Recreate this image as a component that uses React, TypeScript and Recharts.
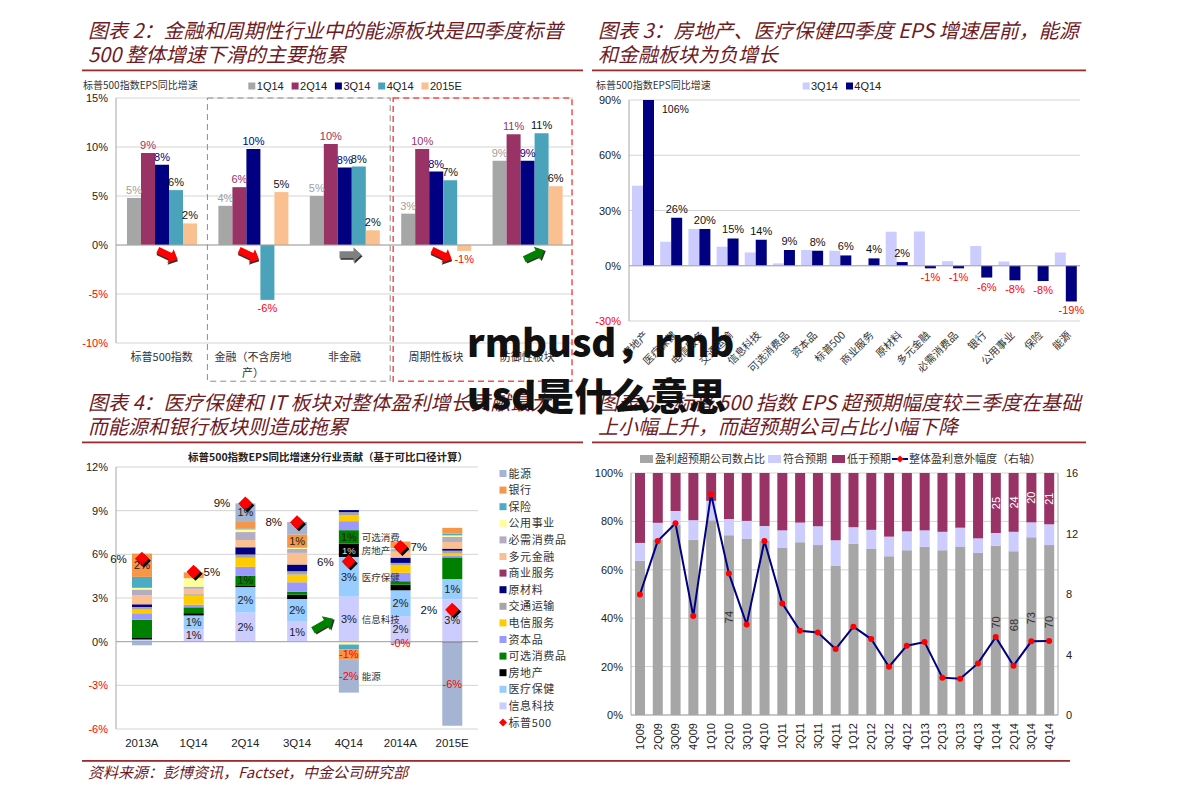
import React from 'react';
import {
  BarChart, Bar, ComposedChart, Line, XAxis, YAxis, CartesianGrid,
  LabelList, ReferenceArea, ReferenceDot, ReferenceLine,
} from 'recharts';

const MAROON = '#6e1b1f';
const RULE = '#9c2b2e';
const SANS = '"Liberation Sans", Arial, sans-serif';
const CJK = '"Noto Sans CJK SC", "Noto Sans", sans-serif';
const GRID = '#d4d4d4';
const AXIS = '#a6a6a6';
const RED = '#ff0000';

// ---------- Chart 1 (图表2) ----------
const c1Categories = ['标普500指数', '金融（不含房地产）', '非金融', '周期性板块', '防御性板块'];
const c1SeriesNames = ['1Q14', '2Q14', '3Q14', '4Q14', '2015E'];
const c1V1Q14 = [4.8, 4.0, 5.0, 3.2, 8.6];
const c1V2Q14 = [9.4, 5.9, 10.3, 9.8, 11.3];
const c1V3Q14 = [8.2, 9.8, 7.9, 7.5, 8.6];
const c1V4Q14 = [5.6, -5.6, 8.0, 6.6, 11.4];
const c1V2015E = [2.2, 5.4, 1.5, -0.6, 6.0];
const c1Ticks = [-10, -5, 0, 5, 10, 15];
const c1Colors = ['#a6a6a6', '#993366', '#000080', '#4aa3bb', '#fac090'];
const c1LabelColors = ['#a0a0a0', '#993366', '#000080', '#111111', '#111111'];
const c1Values = [c1V1Q14, c1V2Q14, c1V3Q14, c1V4Q14, c1V2015E];
const c1Data = c1Categories.map((name, i) => {
  const row: any = { name };
  c1Values.forEach((arr, k) => { row['s' + k] = arr[i]; });
  return row;
});
const c1Arrows = [
  { cat: 0, color: '#ff0000', angle: 25, dx: 6 },
  { cat: 1, color: '#ff0000', angle: 25, dx: -4 },
  { cat: 2, color: '#808080', angle: 0, dx: 6 },
  { cat: 3, color: '#ff0000', angle: 25, dx: 6 },
  { cat: 4, color: '#008000', angle: -25, dx: 7 },
];

// ---------- Chart 2 (图表3) ----------
const c2Categories = ['房地产', '医疗保健', '电信服务', '交通运输', '信息科技', '可选消费品', '资本品', '标普500', '商业服务', '原材料', '多元金融', '必需消费品', '银行', '公用事业', '保险', '能源'];
const c2V3Q14 = [43.4, 13.0, 19.9, 10.3, 7.2, 1.3, 8.5, 8.1, 0.5, 18.4, 18.6, 2.5, 10.7, 2.3, 0.0, 7.2];
const c2V4Q14 = [106, 26.0, 19.9, 14.8, 14.1, 8.5, 8.1, 5.6, 4.0, 2.0, -1.4, -1.4, -6.4, -7.9, -8.3, -19.4];
const c2Ticks = [-30, 0, 30, 60, 90];
const c2Max = 90;
const c2Data = c2Categories.map((name, i) => ({ name, q3: c2V3Q14[i], q4: c2V4Q14[i] }));

// ---------- Chart 3 (图表4) ----------
const c3Periods = ['2013A', '1Q14', '2Q14', '3Q14', '4Q14', '2014A', '2015E'];
const c3IT = [0.10, 0.85, 2.00, 1.38, 3.10, 1.73, 2.92];
const c3Health = [0.05, 0.95, 1.75, 1.55, 2.72, 1.80, 1.38];
const c3RealEstate = [0.15, 0.16, 0.12, 0.30, 0.92, 0.39, -0.06];
const c3Discretionary = [1.20, 0.40, 0.67, 0.20, 0.92, 0.23, 1.49];
const c3Capital = [0.45, 0.18, 0.60, 0.65, 0.62, 0.58, 0.10];
const c3Telecom = [0.25, 0.62, 0.62, 0.53, 0.42, 0.50, 0.16];
const c3Transport = [0.18, 0.10, 0.23, 0.23, 0.20, 0.18, 0.20];
const c3Materials = [0.18, 0.00, 0.48, 0.46, 0.14, 0.35, 0.12];
const c3Business = [0.02, 0.00, 0.05, 0.00, 0.00, 0.02, 0.03];
const c3DivFin = [0.60, 0.37, 0.46, 0.80, -0.05, 0.40, 0.45];
const c3Staples = [0.40, 0.15, 0.55, 0.28, 0.00, 0.18, 0.35];
const c3Utilities = [0.12, 0.58, 0.18, 0.07, -0.15, 0.06, 0.10];
const c3Insurance = [0.75, 0.00, 0.07, 0.00, -0.32, 0.06, 0.12];
const c3Banks = [1.60, 0.40, 0.50, 0.92, -0.68, 0.40, 0.40];
const c3Energy = [-0.25, 0.00, 1.22, 0.85, -2.30, -0.15, -5.72];
const c3SP500 = [5.7, 4.8, 9.5, 8.2, 5.5, 6.5, 2.2];
const c3Ticks = [-6, -3, 0, 3, 6, 9, 12];

const c3LblIT = ['', '1%', '2%', '1%', '3%', '2%', '3%'];
const c3LblHealth = ['', '1%', '2%', '2%', '3%', '2%', '1%'];
const c3LblRealEstate = ['', '', '', '', '1%', '', ''];
const c3LblDiscretionary = ['', '', '1%', '', '1%', '', ''];
const c3LblBanks = ['2%', '', '', '1%', '-1%', '', ''];
const c3LblEnergy = ['', '', '1%', '', '-2%', '-0%', '-6%'];
const c3LblSP500 = ['6%', '5%', '9%', '8%', '6%', '7%', '2%'];
const c3SP500Side = ['left', 'right', 'left', 'left', 'left', 'right', 'left'];
const c3NoteColumn = '4Q14';

// stack order bottom -> top
const c3Sectors = [
  { key: 'it', name: '信息科技', color: '#ccccff', values: c3IT, labels: c3LblIT, note: '信息科技' },
  { key: 'hc', name: '医疗保健', color: '#99ccff', values: c3Health, labels: c3LblHealth, note: '医疗保健' },
  { key: 're', name: '房地产', color: '#000000', values: c3RealEstate, labels: c3LblRealEstate, note: '房地产' },
  { key: 'cd', name: '可选消费品', color: '#008000', values: c3Discretionary, labels: c3LblDiscretionary, note: '可选消费' },
  { key: 'cg', name: '资本品', color: '#9999ff', values: c3Capital, labels: null, note: '' },
  { key: 'tel', name: '电信服务', color: '#ffcc00', values: c3Telecom, labels: null, note: '' },
  { key: 'tr', name: '交通运输', color: '#a6a6a6', values: c3Transport, labels: null, note: '' },
  { key: 'mat', name: '原材料', color: '#000080', values: c3Materials, labels: null, note: '' },
  { key: 'bs', name: '商业服务', color: '#993366', values: c3Business, labels: null, note: '' },
  { key: 'df', name: '多元金融', color: '#fac090', values: c3DivFin, labels: null, note: '' },
  { key: 'cs', name: '必需消费品', color: '#b3acc4', values: c3Staples, labels: null, note: '' },
  { key: 'ut', name: '公用事业', color: '#ffff99', values: c3Utilities, labels: null, note: '' },
  { key: 'ins', name: '保险', color: '#4bacc6', values: c3Insurance, labels: null, note: '' },
  { key: 'bk', name: '银行', color: '#f79646', values: c3Banks, labels: c3LblBanks, note: '' },
  { key: 'en', name: '能源', color: '#a5b4d2', values: c3Energy, labels: c3LblEnergy, note: '能源' },
];
const c3Data = c3Periods.map((name, i) => {
  const row: any = { name, sp: c3SP500[i], spLbl: c3LblSP500[i], spSide: c3SP500Side[i] };
  c3Sectors.forEach((s) => {
    row[s.key] = s.values[i];
    row[s.key + 'Lbl'] = s.labels ? s.labels[i] : '';
    row[s.key + 'Note'] = name === c3NoteColumn ? s.note : '';
  });
  return row;
});

// ---------- Chart 4 (图表5) ----------
const c4Quarters = ['1Q09', '2Q09', '3Q09', '4Q09', '1Q10', '2Q10', '3Q10', '4Q10', '1Q11', '2Q11', '3Q11', '4Q11', '1Q12', '2Q12', '3Q12', '4Q12', '1Q13', '2Q13', '3Q13', '4Q13', '1Q14', '2Q14', '3Q14', '4Q14'];
const c4Beat = [63.7, 72.5, 78.5, 72.4, 80.5, 74.3, 72.8, 72.0, 69.0, 71.4, 70.2, 61.6, 70.7, 68.6, 65.6, 68.1, 69.5, 68.1, 69.6, 67.0, 69.9, 67.7, 73.4, 70.2];
const c4InLine = [7.4, 6.9, 5.8, 8.1, 8.0, 6.7, 7.4, 6.1, 7.3, 8.1, 7.8, 10.6, 6.9, 7.9, 8.1, 7.8, 6.8, 7.6, 7.8, 6.0, 5.3, 8.0, 6.2, 8.6];
const c4Miss = [28.9, 20.6, 15.7, 19.5, 11.5, 19.0, 19.8, 21.9, 23.7, 20.5, 22.0, 27.8, 22.4, 23.5, 26.3, 24.1, 23.7, 24.3, 22.6, 27.0, 24.8, 24.3, 20.4, 21.2];
const c4Surprise = [7.97, 11.5, 12.67, 6.54, 14.6, 9.36, 5.99, 11.5, 7.38, 5.57, 5.46, 4.36, 5.84, 5.02, 3.19, 4.58, 4.82, 2.47, 2.4, 3.41, 5.15, 3.26, 4.87, 4.89];
const c4BeatLbl = ['', '', '', '', '', '74', '', '', '', '', '', '', '', '', '', '', '', '', '', '', '70', '68', '73', '70'];
const c4MissLbl = ['', '', '', '', '', '', '', '', '', '', '', '', '', '', '', '', '', '', '', '', '25', '24', '20', '21'];
const c4LeftTicks = [0, 20, 40, 60, 80, 100];
const c4RightTicks = [0, 4, 8, 12, 16];
const c4Series = ['盈利超预期公司数占比', '符合预期', '低于预期', '整体盈利意外幅度（右轴）'];
const c4Colors = ['#a6a6a6', '#ccccff', '#993366', '#000080'];
const c4Data = c4Quarters.map((name, i) => ({
  name, beat: c4Beat[i], inl: c4InLine[i], miss: c4Miss[i], sur: c4Surprise[i],
  beatLbl: c4BeatLbl[i], missLbl: c4MissLbl[i],
}));

// ---------- helpers ----------
function rectOf(p: any) {
  const v = p.viewBox && typeof p.viewBox.width === 'number' ? p.viewBox : p;
  const x = typeof p.x === 'number' ? p.x : v.x;
  const y = typeof p.y === 'number' ? p.y : v.y;
  const w = typeof p.width === 'number' ? p.width : v.width;
  const h = typeof p.height === 'number' ? p.height : v.height;
  return { x, y, w, h, top: Math.min(y, y + h), bot: Math.max(y, y + h) };
}

const PctTick = (p: any) => {
  const v = p.payload.value;
  return (
    <text x={p.x} y={p.y} dy={4} textAnchor="end" fontSize={11} fontFamily={SANS} fill={v < 0 ? RED : '#222'}>
      {v}%
    </text>
  );
};

const C1XTick = (p: any) => {
  const s = String(p.payload.value);
  const lines = s.length > 7 ? [s.slice(0, 7), s.slice(7)] : [s];
  return (
    <g>
      {lines.map((l, k) => (
        <text key={k} x={p.x} y={p.y + 10 + k * 16} textAnchor="middle" fontSize={11} fontFamily={CJK} fill="#333">{l}</text>
      ))}
    </g>
  );
};

const C2XTick = (p: any) => {
  const x = p.x + 3;
  const y = p.y + 4;
  return (
    <text x={x} y={y} dy={4} transform={`rotate(-45, ${x}, ${y})`} textAnchor="end" fontSize={10.5} fontFamily={CJK} fill="#333">
      {p.payload.value}
    </text>
  );
};

const C3XTick = (p: any) => (
  <text x={p.x} y={p.y} dy={10} textAnchor="middle" fontSize={11.5} fontFamily={SANS} fill="#222">{p.payload.value}</text>
);

const C4XTick = (p: any) => (
  <text x={p.x} y={p.y} dy={4} transform={`rotate(-90, ${p.x}, ${p.y})`} textAnchor="end" fontSize={11} fontFamily={SANS} fill="#222">
    {p.payload.value}
  </text>
);

const C4LeftTick = (p: any) => (
  <text x={p.x} y={p.y} dy={4} textAnchor="end" fontSize={11} fontFamily={SANS} fill="#222">{p.payload.value}%</text>
);
const C4RightTick = (p: any) => (
  <text x={p.x} y={p.y} dy={4} textAnchor="start" fontSize={11} fontFamily={SANS} fill="#222">{p.payload.value}</text>
);

const arrowShape = (color: string, angle: number, dx: number, scale = 1) => (p: any) => {
  const pts = '-11,-3.5 3,-3.5 3,-7.5 11,0 3,7.5 3,3.5 -11,3.5';
  return (
    <g transform={`translate(${p.cx + dx},${p.cy}) rotate(${angle}) scale(${scale})`}>
      <polygon points={pts} fill="#333" transform="translate(1,1.5)" />
      <polygon points={pts} fill={color} />
    </g>
  );
};

const boxShape = (stroke: string, dash: string, sw: number, insetL: number, insetR: number) => (p: any) => (
  <rect x={p.x + insetL} y={p.y} width={p.width - insetL - insetR} height={p.height} fill="none" stroke={stroke} strokeDasharray={dash} strokeWidth={sw} />
);

// ---------- Charts ----------
function Chart1() {
  return (
    <BarChart width={510} height={320} data={c1Data} margin={{ top: 28, right: 17, bottom: 7, left: 6 }} barSize={14} barGap={0}>
      <CartesianGrid vertical={false} stroke={GRID} />
      <XAxis dataKey="name" height={40} axisLine={false} tickLine={false} interval={0} tick={(p: any) => <C1XTick {...p} />} />
      <YAxis width={30} domain={[-10, 15]} ticks={c1Ticks} interval={0} axisLine={{ stroke: AXIS }} tickLine={false} tick={(p: any) => <PctTick {...p} />} />
      <ReferenceLine y={0} stroke={AXIS} />
      {c1Values.map((_, k) => (
        <Bar key={k} dataKey={'s' + k} name={c1SeriesNames[k]} fill={c1Colors[k]} isAnimationActive={false}>
          <LabelList
            dataKey={'s' + k}
            content={(p: any) => {
              const r = rectOf(p);
              const v = Number(p.value);
              const neg = v < 0;
              return (
                <text x={r.x + r.w / 2} y={neg ? r.bot + 12 : r.top - 4} textAnchor="middle" fontSize={11} fontFamily={SANS} fill={neg ? RED : c1LabelColors[k]}>
                  {Math.round(v)}%
                </text>
              );
            }}
          />
        </Bar>
      ))}
      <ReferenceArea x1={c1Categories[1]} x2={c1Categories[2]} y1={-13.9} y2={15} ifOverflow="visible" shape={boxShape('#8c8c8c', '6 4', 1, 0, 0)} />
      <ReferenceArea x1={c1Categories[3]} x2={c1Categories[4]} y1={-13.9} y2={15} ifOverflow="visible" shape={boxShape('#ff4a4a', '6 4', 1.5, 3, 1)} />
      {c1Arrows.map((a) => (
        <ReferenceDot key={a.cat} x={c1Categories[a.cat]} y={-1.0} r={1} ifOverflow="visible" shape={arrowShape(a.color, a.angle, a.dx)} />
      ))}
    </BarChart>
  );
}

function Chart2() {
  return (
    <BarChart width={500} height={320} data={c2Data} margin={{ top: 30, right: 10, bottom: 5, left: 6 }} barSize={11} barGap={0}>
      <CartesianGrid vertical={false} stroke={GRID} />
      <XAxis dataKey="name" height={64} axisLine={false} tickLine={false} interval={0} tick={(p: any) => <C2XTick {...p} />} />
      <YAxis width={33} domain={[-30, c2Max]} ticks={c2Ticks} interval={0} allowDataOverflow axisLine={{ stroke: AXIS }} tickLine={false} tick={(p: any) => <PctTick {...p} />} />
      <ReferenceLine y={0} stroke={AXIS} />
      <Bar dataKey="q3" name="3Q14" fill="#ccccff" isAnimationActive={false} />
      <Bar dataKey="q4" name="4Q14" fill="#000080" isAnimationActive={false}>
        <LabelList
          dataKey="q4"
          content={(p: any) => {
            const r = rectOf(p);
            const v = Number(p.value);
            if (v > c2Max) {
              const perUnit = (r.bot - r.top) / v;
              const plotTop = r.top + (v - c2Max) * perUnit;
              return (
                <text x={r.x + r.w + 8} y={plotTop + 13} textAnchor="start" fontSize={10.5} fontFamily={SANS} fill="#111">{Math.round(v)}%</text>
              );
            }
            const neg = v < 0;
            return (
              <text x={r.x + r.w / 2} y={neg ? r.bot + 13 : r.top - 5} textAnchor="middle" fontSize={11} fontFamily={SANS} fill={neg ? RED : '#111'}>
                {Math.round(v)}%
              </text>
            );
          }}
        />
      </Bar>
    </BarChart>
  );
}

const Diamond = (p: any) => {
  const { cx, cy } = p;
  if (cx == null || cy == null) return <g />;
  const d = 7;
  return (
    <g>
      <polygon points={`${cx + 2},${cy - d + 2} ${cx + d + 2},${cy + 2} ${cx + 2},${cy + d + 2} ${cx - d + 2},${cy + 2}`} fill="#000" />
      <polygon points={`${cx},${cy - d} ${cx + d},${cy} ${cx},${cy + d} ${cx - d},${cy}`} fill="#ff0000" />
    </g>
  );
};

function Chart3() {
  return (
    <ComposedChart width={420} height={315} data={c3Data} margin={{ top: 24, right: 22, bottom: 5, left: 6 }} stackOffset="sign" barSize={20}>
      <CartesianGrid vertical={false} stroke={GRID} />
      <XAxis dataKey="name" height={24} axisLine={false} tickLine={false} interval={0} tick={(p: any) => <C3XTick {...p} />} />
      <YAxis width={30} domain={[-6, 12]} ticks={c3Ticks} interval={0} axisLine={{ stroke: AXIS }} tickLine={false} tick={(p: any) => <PctTick {...p} />} />
      <ReferenceLine y={0} stroke={AXIS} />
      {c3Sectors.map((s) => (
        <Bar key={s.key} dataKey={s.key} name={s.name} stackId="a" fill={s.color} isAnimationActive={false}>
          {s.labels && (
            <LabelList
              dataKey={s.key + 'Lbl'}
              content={(p: any) => {
                const t = p.value;
                if (!t) return null;
                const r = rectOf(p);
                const neg = String(t).startsWith('-');
                const fill = neg ? RED : s.key === 're' ? '#dddddd' : '#222';
                return (
                  <text x={r.x + r.w / 2} y={(r.top + r.bot) / 2 + 4} textAnchor="middle" fontSize={s.key === 're' ? 9.5 : 11} fontFamily={SANS} fill={fill}>{t}</text>
                );
              }}
            />
          )}
          {s.note && (
            <LabelList
              dataKey={s.key + 'Note'}
              content={(p: any) => {
                const t = p.value;
                if (!t) return null;
                const r = rectOf(p);
                return (
                  <text x={r.x + r.w + 3} y={(r.top + r.bot) / 2 + 4} textAnchor="start" fontSize={9.5} fontFamily={CJK} fill="#333">{t}</text>
                );
              }}
            />
          )}
        </Bar>
      ))}
      <ReferenceDot x={c3Periods[3]} y={1.17} r={1} ifOverflow="visible" shape={arrowShape('#008000', -30, 26, 1.05)} />
      <Line
        dataKey="sp"
        name="标普500"
        stroke="none"
        isAnimationActive={false}
        activeDot={false}
        dot={(p: any) => <Diamond key={p.index} {...p} />}
      >
        <LabelList
          dataKey="spLbl"
          content={(p: any) => {
            const side = c3SP500Side[p.index];
            const x = Number(p.x);
            const y = Number(p.y);
            return (
              <text x={side === 'left' ? x - 15 : x + 10} y={y + 4} textAnchor={side === 'left' ? 'end' : 'start'} fontSize={11.5} fontFamily={SANS} fill="#111">
                {p.value}
              </text>
            );
          }}
        />
      </Line>
    </ComposedChart>
  );
}

function Chart4() {
  return (
    <ComposedChart width={500} height={315} data={c4Data} margin={{ top: 30, right: 6, bottom: 5, left: 6 }} barSize={10}>
      <CartesianGrid vertical={false} stroke={GRID} yAxisId="l" />
      <XAxis dataKey="name" height={38} axisLine={{ stroke: AXIS }} tickLine={false} interval={0} tick={(p: any) => <C4XTick {...p} />} />
      <YAxis yAxisId="l" width={35} domain={[0, 100]} ticks={c4LeftTicks} interval={0} axisLine={{ stroke: AXIS }} tickLine={false} tick={(p: any) => <C4LeftTick {...p} />} />
      <YAxis yAxisId="r" orientation="right" width={26} domain={[0, 16]} ticks={c4RightTicks} interval={0} axisLine={{ stroke: AXIS }} tickLine={false} tick={(p: any) => <C4RightTick {...p} />} />
      <Bar yAxisId="l" dataKey="beat" name={c4Series[0]} stackId="b" fill={c4Colors[0]} isAnimationActive={false}>
        <LabelList
          dataKey="beatLbl"
          content={(p: any) => {
            const t = p.value;
            if (!t) return null;
            const r = rectOf(p);
            const cx = r.x + r.w / 2;
            const cy = (r.top + r.bot) / 2 - 8;
            return (
              <text x={cx} y={cy} dy={4} transform={`rotate(-90, ${cx}, ${cy})`} textAnchor="middle" fontSize={11} fontFamily={SANS} fill="#333">{t}</text>
            );
          }}
        />
      </Bar>
      <Bar yAxisId="l" dataKey="inl" name={c4Series[1]} stackId="b" fill={c4Colors[1]} isAnimationActive={false} />
      <Bar yAxisId="l" dataKey="miss" name={c4Series[2]} stackId="b" fill={c4Colors[2]} isAnimationActive={false}>
        <LabelList
          dataKey="missLbl"
          content={(p: any) => {
            const t = p.value;
            if (!t) return null;
            const r = rectOf(p);
            const cx = r.x + r.w / 2;
            const cy = (r.top + r.bot) / 2;
            return (
              <text x={cx} y={cy} dy={4} transform={`rotate(-90, ${cx}, ${cy})`} textAnchor="middle" fontSize={11} fontFamily={SANS} fill="#ffffff">{t}</text>
            );
          }}
        />
      </Bar>
      <Line
        yAxisId="r"
        dataKey="sur"
        name={c4Series[3]}
        stroke={c4Colors[3]}
        strokeWidth={2}
        isAnimationActive={false}
        activeDot={false}
        dot={{ r: 3, fill: '#ff0000', stroke: '#ff0000', strokeWidth: 0 }}
      />
    </ComposedChart>
  );
}

// ---------- Static text ----------
const titleStyle: any = { fontFamily: CJK, fontStyle: 'italic', fontSize: 20, fill: MAROON };

function Background() {
  const legendSq = (x: number, y: number, color: string, w = 7, h = 7) => <rect x={x} y={y - h / 2} width={w} height={h} fill={color} />;
  const c3LegendItems = [...c3Sectors].reverse();
  return (
    <svg style={{ position: 'absolute', left: 0, top: 0 }} width={1191} height={801}>
      {/* titles */}
      <text x={88} y={37.5} {...titleStyle}>图表 2：金融和周期性行业中的能源板块是四季度标普</text>
      <text x={88} y={61.5} {...titleStyle}>500 整体增速下滑的主要拖累</text>
      <text x={598} y={37.5} {...titleStyle}>图表 3：房地产、医疗保健四季度 EPS 增速居前，能源</text>
      <text x={598} y={61.5} {...titleStyle}>和金融板块为负增长</text>
      <text x={88} y={409.5} {...titleStyle}>图表 4：医疗保健和 IT 板块对整体盈利增长贡献最大</text>
      <text x={88} y={433.5} {...titleStyle}>而能源和银行板块则造成拖累</text>
      <text x={598} y={409.5} {...titleStyle}>图表 5：标普 500 指数 EPS 超预期幅度较三季度在基础</text>
      <text x={598} y={433.5} {...titleStyle}>上小幅上升，而超预期公司占比小幅下降</text>
      {/* rules */}
      <rect x={82} y={69.5} width={501} height={1.8} fill={RULE} />
      <rect x={592} y={69.5} width={494} height={1.8} fill={RULE} />
      <rect x={82} y={441.5} width={501} height={1.8} fill={RULE} />
      <rect x={592} y={441.5} width={494} height={1.8} fill={RULE} />
      <rect x={82} y={760} width={988} height={1.8} fill={RULE} />
      {/* footer */}
      <text x={88} y={778} fontFamily={CJK} fontStyle="italic" fontSize={15} fill={MAROON}>资料来源：彭博资讯，Factset，中金公司研究部</text>

      {/* chart 1 legend */}
      <text x={83} y={89} fontFamily={CJK} fontSize={10} fill="#333">标普500指数EPS同比增速</text>
      {c1SeriesNames.map((n, k) => (
        <g key={n}>
          {legendSq(248.3 + k * 43.3, 86, c1Colors[k])}
          <text x={256.8 + k * 43.3} y={90} fontFamily={SANS} fontSize={11} fill="#222">{n}</text>
        </g>
      ))}

      {/* chart 2 legend */}
      <text x={596} y={89} fontFamily={CJK} fontSize={10} fill="#333">标普500指数EPS同比增速</text>
      {['3Q14', '4Q14'].map((n, k) => (
        <g key={n}>
          {legendSq(802.7 + k * 43.3, 86, k === 0 ? '#ccccff' : '#000080')}
          <text x={811 + k * 43.3} y={90} fontFamily={SANS} fontSize={11} fill="#222">{n}</text>
        </g>
      ))}

      {/* chart 3 title + legend */}
      <text x={328} y={461} textAnchor="middle" fontFamily={CJK} fontWeight={700} fontSize={10.5} fill="#222">标普500指数EPS同比增速分行业贡献（基于可比口径计算）</text>
      {c3LegendItems.map((s, k) => (
        <g key={s.key}>
          {legendSq(499.5, 473.5 + k * 16.6, s.color)}
          <text x={508.5} y={477.5 + k * 16.6} fontFamily={CJK} fontSize={11} letterSpacing={0.6} fill="#333">{s.name}</text>
        </g>
      ))}
      <g>
        <polygon points={`503,${473.5 + 15 * 16.6 - 4} 507,${473.5 + 15 * 16.6} 503,${473.5 + 15 * 16.6 + 4} 499,${473.5 + 15 * 16.6}`} fill="#ff0000" />
        <text x={508.5} y={477.5 + 15 * 16.6} fontFamily={CJK} fontSize={11} letterSpacing={0.6} fill="#333">标普500</text>
      </g>

      {/* chart 4 legend */}
      {legendSq(640, 459, c4Colors[0], 13, 8)}
      <text x={655} y={463} fontFamily={CJK} fontSize={11} fill="#333">{c4Series[0]}</text>
      {legendSq(768, 459, c4Colors[1], 13, 8)}
      <text x={783} y={463} fontFamily={CJK} fontSize={11} fill="#333">{c4Series[1]}</text>
      {legendSq(832, 459, c4Colors[2], 13, 8)}
      <text x={847} y={463} fontFamily={CJK} fontSize={11} fill="#333">{c4Series[2]}</text>
      <line x1={892} y1={459} x2={908} y2={459} stroke={c4Colors[3]} strokeWidth={2} />
      <polygon points="900,455.5 903.5,459 900,462.5 896.5,459" fill="#ff0000" />
      <text x={909} y={463} fontFamily={CJK} fontSize={11} fill="#333">{c4Series[3]}</text>
    </svg>
  );
}

function Watermark() {
  return (
    <svg style={{ position: 'absolute', left: 0, top: 0, pointerEvents: 'none' }} width={1191} height={801}>
      <text x={467} y={357} fontFamily={CJK} fontWeight={900} fontSize={38} fill="#111">rmbusd，rmb</text>
      <text x={467} y={410} fontFamily={CJK} fontWeight={900} fontSize={38} fill="#111">usd是什么意思</text>
    </svg>
  );
}

export default function App() {
  return (
    <div style={{ position: 'absolute', left: 0, top: 0, width: 1191, height: 801, background: '#ffffff', overflow: 'hidden' }}>
      <Background />
      <div style={{ position: 'absolute', left: 80, top: 70 }}><Chart1 /></div>
      <div style={{ position: 'absolute', left: 590, top: 70 }}><Chart2 /></div>
      <div style={{ position: 'absolute', left: 80, top: 443 }}><Chart3 /></div>
      <div style={{ position: 'absolute', left: 590, top: 443 }}><Chart4 /></div>
      <Watermark />
    </div>
  );
}
